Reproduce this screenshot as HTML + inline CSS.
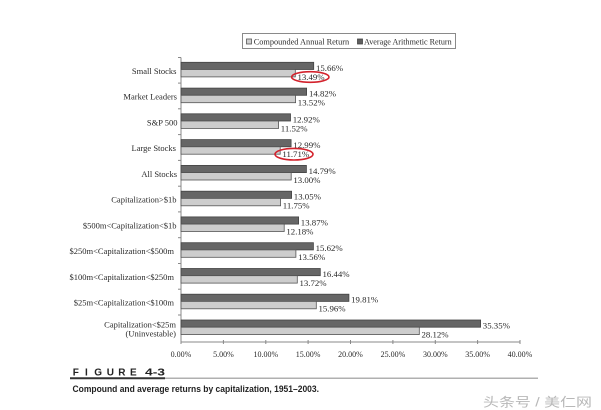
<!DOCTYPE html>
<html>
<head>
<meta charset="utf-8">
<style>
html,body{margin:0;padding:0;background:#fff;}
svg{display:block;}
.s{font-family:"Liberation Serif",serif;fill:#2a2a2a;}
.b{font-family:"Liberation Sans",sans-serif;font-weight:bold;fill:#222;}
</style>
</head>
<body>
<svg width="601" height="410" viewBox="0 0 601 410" xmlns="http://www.w3.org/2000/svg">
<rect x="0" y="0" width="601" height="410" fill="#fff"/>

<!-- Legend -->
<rect x="242.5" y="33.5" width="213" height="15" fill="#fff" stroke="#8a8a8a" stroke-width="1"/>
<rect x="246.5" y="39" width="5" height="5" fill="#cfcfcf" stroke="#555" stroke-width="0.8"/>
<text class="s" x="253.7" y="44.6" font-size="8.5" textLength="95.5" lengthAdjust="spacingAndGlyphs">Compounded Annual Return</text>
<rect x="357.5" y="39" width="5" height="5" fill="#5f5f5f" stroke="#444" stroke-width="0.8"/>
<text class="s" x="364" y="44.6" font-size="8.5" textLength="87.7" lengthAdjust="spacingAndGlyphs">Average Arithmetic Return</text>

<!-- Y axis -->
<line x1="181" y1="57.5" x2="181" y2="342" stroke="#888" stroke-width="1"/>
<g stroke="#888" stroke-width="1">
<line x1="178" y1="57.5" x2="181" y2="57.5"/>
<line x1="178" y1="83.1" x2="181" y2="83.1"/>
<line x1="178" y1="108.8" x2="181" y2="108.8"/>
<line x1="178" y1="134.6" x2="181" y2="134.6"/>
<line x1="178" y1="160.4" x2="181" y2="160.4"/>
<line x1="178" y1="186.2" x2="181" y2="186.2"/>
<line x1="178" y1="211.9" x2="181" y2="211.9"/>
<line x1="178" y1="237.7" x2="181" y2="237.7"/>
<line x1="178" y1="263.5" x2="181" y2="263.5"/>
<line x1="178" y1="289.2" x2="181" y2="289.2"/>
<line x1="178" y1="315.0" x2="181" y2="315.0"/>
</g>

<!-- X axis -->
<line x1="181" y1="342" x2="520" y2="342" stroke="#888" stroke-width="1"/>
<g stroke="#888" stroke-width="1">
<line x1="181" y1="340" x2="181" y2="344"/>
<line x1="223.4" y1="340" x2="223.4" y2="344"/>
<line x1="265.8" y1="340" x2="265.8" y2="344"/>
<line x1="308.1" y1="340" x2="308.1" y2="344"/>
<line x1="350.5" y1="340" x2="350.5" y2="344"/>
<line x1="392.9" y1="340" x2="392.9" y2="344"/>
<line x1="435.3" y1="340" x2="435.3" y2="344"/>
<line x1="477.6" y1="340" x2="477.6" y2="344"/>
<line x1="520" y1="340" x2="520" y2="344"/>
</g>
<g class="s" font-size="8" text-anchor="middle">
<text x="181" y="357">0.00%</text>
<text x="223.4" y="357">5.00%</text>
<text x="265.8" y="357">10.00%</text>
<text x="308.1" y="357">15.00%</text>
<text x="350.5" y="357">20.00%</text>
<text x="392.9" y="357">25.00%</text>
<text x="435.3" y="357">30.00%</text>
<text x="477.6" y="357">35.00%</text>
<text x="520" y="357">40.00%</text>
</g>

<!-- Bars -->
<g stroke-width="0.8">
<rect x="181" y="62.3" width="132.7" height="7.2" fill="#666" stroke="#444"/>
<rect x="181" y="69.5" width="114.3" height="7.4" fill="#cdcdcd" stroke="#555"/>
<rect x="181" y="88.1" width="125.6" height="7.2" fill="#666" stroke="#444"/>
<rect x="181" y="95.3" width="114.6" height="7.4" fill="#cdcdcd" stroke="#555"/>
<rect x="181" y="113.8" width="109.5" height="7.2" fill="#666" stroke="#444"/>
<rect x="181" y="121.0" width="97.6" height="7.4" fill="#cdcdcd" stroke="#555"/>
<rect x="181" y="139.6" width="110.1" height="7.2" fill="#666" stroke="#444"/>
<rect x="181" y="146.8" width="99.2" height="7.4" fill="#cdcdcd" stroke="#555"/>
<rect x="181" y="165.4" width="125.4" height="7.2" fill="#666" stroke="#444"/>
<rect x="181" y="172.6" width="110.2" height="7.4" fill="#cdcdcd" stroke="#555"/>
<rect x="181" y="191.2" width="110.6" height="7.2" fill="#666" stroke="#444"/>
<rect x="181" y="198.4" width="99.6" height="7.4" fill="#cdcdcd" stroke="#555"/>
<rect x="181" y="216.9" width="117.6" height="7.2" fill="#666" stroke="#444"/>
<rect x="181" y="224.1" width="103.2" height="7.4" fill="#cdcdcd" stroke="#555"/>
<rect x="181" y="242.7" width="132.4" height="7.2" fill="#666" stroke="#444"/>
<rect x="181" y="249.9" width="114.9" height="7.4" fill="#cdcdcd" stroke="#555"/>
<rect x="181" y="268.5" width="139.3" height="7.2" fill="#666" stroke="#444"/>
<rect x="181" y="275.7" width="116.3" height="7.4" fill="#cdcdcd" stroke="#555"/>
<rect x="181" y="294.2" width="167.9" height="7.2" fill="#666" stroke="#444"/>
<rect x="181" y="301.4" width="135.3" height="7.4" fill="#cdcdcd" stroke="#555"/>
<rect x="181" y="320.0" width="299.6" height="7.2" fill="#666" stroke="#444"/>
<rect x="181" y="327.2" width="238.3" height="7.4" fill="#cdcdcd" stroke="#555"/>
</g>

<!-- Value labels -->
<g class="s" font-size="8.8">
<text x="316" y="70.8">15.66%</text>
<text x="297.5" y="79.8">13.49%</text>
<text x="309" y="96.6">14.82%</text>
<text x="297.8" y="105.6">13.52%</text>
<text x="292.7" y="122.3">12.92%</text>
<text x="280.8" y="131.3">11.52%</text>
<text x="293.3" y="148.1">12.99%</text>
<text x="282.4" y="157.1">11.71%</text>
<text x="308.6" y="173.9">14.79%</text>
<text x="293.4" y="182.9">13.00%</text>
<text x="293.8" y="199.7">13.05%</text>
<text x="282.8" y="208.7">11.75%</text>
<text x="300.8" y="225.4">13.87%</text>
<text x="286.4" y="234.4">12.18%</text>
<text x="315.6" y="251.2">15.62%</text>
<text x="298.1" y="260.2">13.56%</text>
<text x="322.5" y="277.0">16.44%</text>
<text x="299.5" y="286.0">13.72%</text>
<text x="351.1" y="302.7">19.81%</text>
<text x="318.5" y="311.7">15.96%</text>
<text x="482.8" y="328.5">35.35%</text>
<text x="421.5" y="337.5">28.12%</text>
</g>

<!-- Category labels -->
<g class="s" font-size="8.5" text-anchor="end">
<text x="176.5" y="73.8">Small Stocks</text>
<text x="177" y="99.6">Market Leaders</text>
<text x="177.5" y="125.3">S&amp;P 500</text>
<text x="176" y="151.1">Large Stocks</text>
<text x="177" y="176.9">All Stocks</text>
<text x="176.5" y="202.7">Capitalization&gt;$1b</text>
<text x="176.5" y="228.4">$500m&lt;Capitalization&lt;$1b</text>
<text x="174" y="254.2">$250m&lt;Capitalization&lt;$500m</text>
<text x="174" y="280.0">$100m&lt;Capitalization&lt;$250m</text>
<text x="174" y="305.7">$25m&lt;Capitalization&lt;$100m</text>
<text x="176" y="327.3">Capitalization&lt;$25m</text>
<text x="176" y="336.3">(Uninvestable)</text>
</g>

<!-- Red ellipses -->
<ellipse cx="310.3" cy="77" rx="18.7" ry="5.3" fill="none" stroke="#d3222c" stroke-width="1.6"/>
<ellipse cx="294" cy="154.2" rx="19" ry="5.8" fill="none" stroke="#d3222c" stroke-width="1.6"/>

<!-- Figure caption -->
<g class="b" font-size="10">
<text x="72.7" y="375.5">F</text>
<text x="85" y="375.5">I</text>
<text x="94.3" y="375.5">G</text>
<text x="106.7" y="375.5">U</text>
<text x="118.3" y="375.5">R</text>
<text x="130" y="375.5">E</text>
<text x="145" y="375.5" textLength="20" lengthAdjust="spacingAndGlyphs">4-3</text>
</g>
<line x1="165" y1="378.3" x2="538" y2="378.3" stroke="#b0b0b0" stroke-width="1.5"/>
<line x1="70" y1="378.3" x2="165" y2="378.3" stroke="#333" stroke-width="2"/>
<text class="b" x="72.5" y="391.8" font-size="9.5" textLength="246.5" lengthAdjust="spacingAndGlyphs">Compound and average returns by capitalization, 1951–2003.</text>

<!-- Watermark -->
<text x="483" y="406.5" font-family="'Liberation Sans','Noto Sans CJK SC',sans-serif" font-size="12.5" fill="#b8b8b8" textLength="109" lengthAdjust="spacingAndGlyphs">头条号 / 美仁网</text>
</svg>
</body>
</html>
